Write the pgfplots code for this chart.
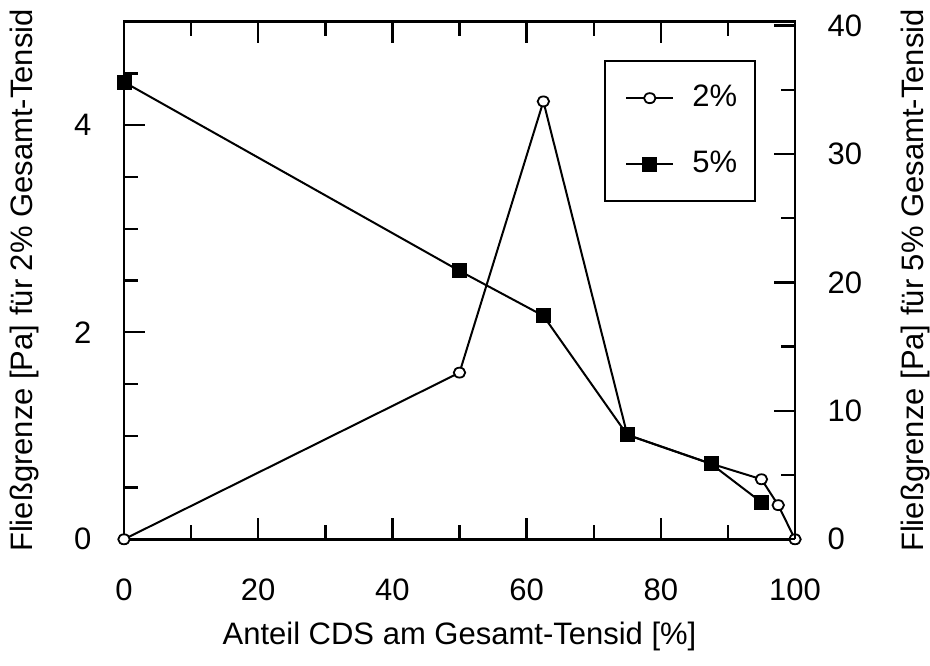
\documentclass[border=0pt]{standalone}
\usepackage{fontspec}
\setmainfont{Liberation Sans}
\usepackage{pgfplots}
\pgfplotsset{compat=1.18}
\begin{document}
\fontsize{31}{37}\selectfont
\begin{tikzpicture}
\useasboundingbox (0,0) rectangle (930pt,666pt);
\pgfplotsset{
  common/.style={
    at={(124pt,126.7pt)}, anchor=south west,
    scale only axis, width=671pt, height=517.6pt,
    xmin=0, xmax=100, clip=false,
    major tick length=21pt, minor tick length=14pt,
    tick style={line width=2.4pt, black},
    axis line style={line width=2.6pt},
    /pgf/number format/assume math mode=true,
    font=\fontsize{31}{37}\selectfont,
    tick label style={font=\fontsize{31}{37}\selectfont},
    label style={font=\fontsize{31}{37}\selectfont},
  },
  s2/.style={black, line width=2pt, mark=*, mark size=5pt, mark options={fill=white, xscale=1.15, line width=1.8pt}},
  s5/.style={black, line width=2pt, mark=square*, mark size=6.5pt, mark options={fill=black}},
}
\begin{axis}[common,
  ymin=0, ymax=5,
  tick align=inside,
  xtick={0,20,...,100}, minor xtick={10,30,50,70,90}, xtick pos=both,
  ytick={0,2,4}, minor ytick={0.5,1,1.5,2.5,3,3.5,4.5}, ytick pos=left,
  xticklabel shift=29pt, yticklabel shift=22pt,
  xlabel={Anteil CDS am Gesamt-Tensid [\%]},
  ylabel={Fließgrenze [Pa] für 2\% Gesamt-Tensid},
  xlabel style={at={(axis description cs:0.5,-0.187)}, anchor=center},
  ylabel style={at={(axis description cs:-0.149,0.5)}, anchor=center},
]
\addplot[s2] coordinates {(0,0) (50,1.61) (62.5,4.23) (75,1.01) (87.5,0.73) (95,0.58) (97.5,0.33) (100,0)};
\end{axis}
\begin{axis}[common,
  ymin=0, ymax=40.3,
  axis x line=none, axis y line*=right,
  tick align=inside,
  ytick={0,10,...,40}, minor ytick={5,15,25,35}, ytick pos=right,
  yticklabel shift=22pt,
  ylabel={Fließgrenze [Pa] für 5\% Gesamt-Tensid},
  ylabel style={at={(axis description cs:1.179,0.5)}, anchor=center, rotate=0},
  legend style={at={(axis description cs:0.942,0.926)}, anchor=north east,
    draw=black, line width=2pt, fill=white, inner xsep=16pt, inner ysep=22pt,
    row sep=36pt, cells={anchor=west}, font=\fontsize{31}{37}\selectfont},
  legend image code/.code={\draw[mark repeat=2, mark phase=2] plot coordinates {(0pt,0pt) (23.5pt,0pt) (47pt,0pt)}; \path (-4pt,0pt) (63pt,0pt);},
]
\addlegendimage{s2}
\addlegendentry{2\%}
\addplot[s5] coordinates {(0,35.6) (50,20.9) (62.5,17.4) (75,8.13) (87.5,5.87) (95,2.88)};
\addlegendentry{5\%}
\end{axis}
\end{tikzpicture}
\end{document}
